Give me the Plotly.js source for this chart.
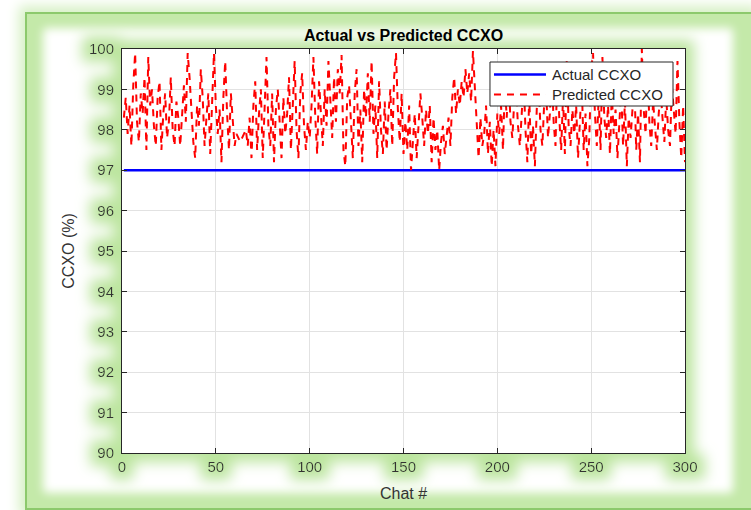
<!DOCTYPE html>
<html>
<head>
<meta charset="utf-8">
<script src="https://cdn.plot.ly/plotly-3.0.1.min.js"></script>
<style>
  html, body { margin: 0; padding: 0; }
  body { width: 751px; height: 510px; overflow: hidden; position: relative; background: #ffffff; }
  #frame {
    position: absolute; left: 25px; top: 12px; width: 724px; height: 494px;
    background: #c4e9a9; border: 2px solid #8cc96c;
    box-shadow: 0 0 12px 6px #d6f0c4;
  }
  #inner {
    position: absolute; left: 43px; top: 28px; width: 690px; height: 465px;
    background: #ffffff; filter: blur(5px); border-radius: 4px;
  }
  #chart { position: absolute; left: 0; top: 0; width: 751px; height: 510px; }
  #chart .main-svg:first-of-type { filter: url(#glow); }
</style>
</head>
<body>
<svg width="0" height="0" style="position:absolute">
  <defs>
    <filter id="glow" x="-5%" y="-5%" width="110%" height="110%">
      <feMorphology in="SourceAlpha" operator="dilate" radius="8" result="grown"/>
      <feGaussianBlur in="grown" stdDeviation="7" result="soft"/>
      <feFlood flood-color="#bce59f"/>
      <feComposite in2="soft" operator="in" result="halo"/>
      <feMerge>
        <feMergeNode in="halo"/>
        <feMergeNode in="SourceGraphic"/>
      </feMerge>
    </filter>
  </defs>
</svg>
<div id="frame"></div>
<div id="inner"></div>
<div id="chart"></div>
<script>
// Target CCXO level for every chat
const actualCCXO = 97;

// Model output per chat (chats 1..300)
const predictedCCXO = [
  98.3, 98.8, 97.9, 98.6, 97.6, 99.1, 99.9, 98.2, 97.7, 98.9,
  98.4, 99.3, 97.5, 99.8, 98.6, 99.0, 98.1, 97.6, 98.8, 99.2,
  97.5, 98.4, 98.9, 97.8, 98.2, 99.3, 98.0, 97.6, 98.7, 98.3,
  97.6, 98.5, 99.1, 98.2, 99.9, 99.3, 98.4, 97.7, 97.3, 98.6,
  98.1, 99.5, 98.8, 97.6, 98.3, 98.9, 97.4, 98.7, 99.9, 98.6,
  97.9, 98.5, 97.2, 98.8, 99.7, 98.4, 97.5, 98.9, 98.2, 97.6,
  97.9, 97.8, 97.7, 97.8, 97.9, 98.0, 97.6, 98.3, 97.3, 98.6,
  99.2, 97.5, 98.4, 99.0, 97.3, 98.7, 99.8, 98.1, 97.6, 98.9,
  97.2, 98.5, 99.0, 98.2, 97.3, 98.8, 97.9, 98.4, 99.3, 97.5,
  98.6, 99.7, 98.0, 97.3, 98.9, 99.4, 98.1, 97.5, 98.2, 97.8,
  98.6, 99.8, 98.3, 97.4, 99.2, 98.5, 97.6, 99.0, 98.1, 99.7,
  98.6, 97.8, 99.3, 98.2, 99.5, 98.9, 99.85, 97.5, 97.1, 98.8,
  99.1, 98.0, 97.3, 98.9, 99.5, 97.6, 98.5, 97.2, 99.0, 98.3,
  99.4, 98.2, 99.7, 97.9, 98.6, 97.3, 99.2, 98.0, 97.4, 98.7,
  97.5, 98.4, 99.0, 97.6, 99.3, 99.9, 98.5, 97.7, 98.9, 97.4,
  98.2, 97.5, 98.6, 97.0, 97.8, 98.4, 97.3, 98.1, 98.9, 98.3,
  97.6, 98.5, 97.9, 98.6, 97.2, 98.3, 97.5, 98.0, 97.0, 97.7,
  98.1, 97.4, 97.9, 98.3, 97.6, 98.8, 99.3, 98.4, 99.0, 98.6,
  99.2, 98.8, 99.5, 98.9, 99.4, 98.7, 99.95, 99.0, 97.9, 97.3,
  98.3, 97.6, 97.9, 98.6, 97.4, 98.2, 97.1, 98.0, 97.1, 98.4,
  97.9, 98.6, 97.5, 99.1, 98.3, 99.4, 98.2, 97.8, 98.7, 99.0,
  98.1, 97.6, 98.4, 99.3, 98.0, 97.2, 98.8, 97.4, 98.1, 97.1,
  98.5, 99.2, 98.0, 97.6, 98.7, 99.0, 97.8, 98.4, 99.4, 98.2,
  97.6, 99.6, 98.3, 97.5, 98.8, 97.4, 99.7, 98.1, 97.6, 98.5,
  97.9, 98.6, 97.3, 98.2, 99.1, 97.5, 98.4, 97.1, 97.8, 99.5,
  99.9, 98.4, 97.6, 98.8, 97.5, 99.8, 98.3, 97.8, 98.6, 97.4,
  98.9, 97.9, 98.5, 97.3, 98.2, 99.0, 97.6, 98.7, 97.1, 98.3,
  97.8, 98.6, 99.2, 97.5, 98.4, 97.2, 100.0, 98.5, 97.9, 99.6,
  98.2, 97.6, 98.7, 98.1, 97.5, 98.4, 99.0, 98.3, 97.7, 98.8,
  98.0, 97.6, 99.1, 98.5, 97.9, 99.7, 98.2, 97.3, 98.6, 97.2
];

const seriesNames = ['Actual CCXO', 'Predicted CCXO'];
const seriesColors = ['#0000ff', '#ff0000'];
const seriesDash = ['solid', '7px,6px'];
const seriesWidth = [2.5, 2];

const chatNumbers = predictedCCXO.map((_, i) => i + 1);
const xTicks = [0, 50, 100, 150, 200, 250, 300];
const yTicks = [90, 91, 92, 93, 94, 95, 96, 97, 98, 99, 100];

const FONT = 'Liberation Sans, Arial, Helvetica, sans-serif';
const INK = '#262626';

const seriesY = [chatNumbers.map(() => actualCCXO), predictedCCXO];

const traces = seriesNames.map((name, i) => ({
  x: chatNumbers,
  y: seriesY[i],
  type: 'scatter', mode: 'lines', name: name,
  line: { color: seriesColors[i], width: seriesWidth[i], dash: seriesDash[i] }
}));

// Boxed legend in the upper right corner of the axes (paper coordinates)
const legendBox = { x0: 0.6536, x1: 0.9787, y0: 0.8589, y1: 0.9678 };
const legendRowY = [0.9369, 0.8874];
const legendShapes = [{
  type: 'rect', xref: 'paper', yref: 'paper', layer: 'above',
  x0: legendBox.x0, x1: legendBox.x1, y0: legendBox.y0, y1: legendBox.y1,
  fillcolor: '#ffffff', line: { color: INK, width: 1 }
}].concat(seriesNames.map((name, i) => ({
  type: 'line', xref: 'paper', yref: 'paper', layer: 'above',
  x0: 0.6607, x1: 0.7531, y0: legendRowY[i], y1: legendRowY[i],
  line: { color: seriesColors[i], width: seriesWidth[i], dash: seriesDash[i] }
})));
const legendLabels = seriesNames.map((name, i) => ({
  text: name, xref: 'paper', yref: 'paper',
  x: 0.7602, y: legendRowY[i], xanchor: 'left', yanchor: 'middle',
  showarrow: false, font: { family: FONT, size: 15, color: INK }
}));

const axisBase = {
  showgrid: true, gridcolor: '#e2e2e2', gridwidth: 1,
  showline: true, linecolor: INK, linewidth: 1, mirror: 'ticks',
  ticks: 'inside', ticklen: 5, tickcolor: INK, tickwidth: 1,
  zeroline: false, automargin: false,
  tickfont: { family: FONT, size: 15, color: '#333333' }
};

const layout = {
  width: 751, height: 510,
  paper_bgcolor: 'rgba(0,0,0,0)', plot_bgcolor: '#ffffff',
  margin: { l: 122, r: 66, t: 49, b: 57, pad: 0 },
  showlegend: false,
  title: {
    text: '<b>Actual vs Predicted CCXO</b>',
    font: { family: FONT, size: 16, color: '#000000' },
    x: 0.5, xref: 'paper', xanchor: 'center',
    y: 0.931, yref: 'container', yanchor: 'middle'
  },
  xaxis: Object.assign({}, axisBase, {
    range: [0, 300], tickvals: xTicks, ticktext: xTicks.map(String),
    title: { text: 'Chat #', font: { family: FONT, size: 16, color: '#333333' }, standoff: 13 }
  }),
  yaxis: Object.assign({}, axisBase, {
    range: [90, 100], tickvals: yTicks, ticktext: yTicks.map(String),
    ticklabelstandoff: 4,
    title: { text: 'CCXO (%)', font: { family: FONT, size: 16, color: '#333333' }, standoff: 10 }
  }),
  shapes: legendShapes,
  annotations: legendLabels
};

Plotly.newPlot('chart', traces, layout, { staticPlot: true, displayModeBar: false });
</script>
</body>
</html>
